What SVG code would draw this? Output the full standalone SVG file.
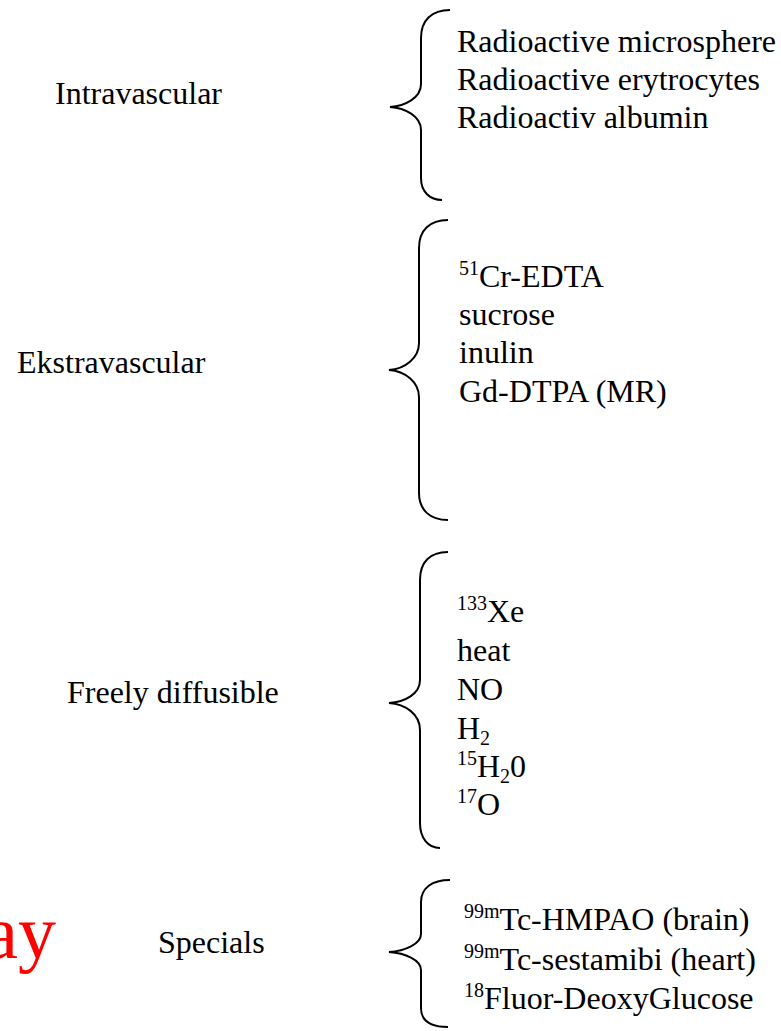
<svg xmlns="http://www.w3.org/2000/svg" width="781" height="1031" viewBox="0 0 781 1031">
<style>
  text { font-family: "Liberation Serif", "Times New Roman", serif; font-size: 32px; fill: #000; }
  .brace { fill: none; stroke: #000; stroke-width: 2; }
  .red { fill: #FF0000; font-size: 76px; }
</style>
<rect width="781" height="1031" fill="#fff"/>
<g id="braces">
  <path class="brace" d="M450,10 C432,10 421,20 421,38 L421,84 C421,98 405,106 390,107 C405,108 421,116 421,130 L421,178 C421,192 430,200 442,200"/>
  <path class="brace" d="M448,220 C430,220 419,230 419,248 L419,343 C419,358 405,369 389,370 C405,371 419,382 419,397 L419,493 C419,510 430,520 448,520"/>
  <path class="brace" d="M448,552 C430,552 420,562 420,580 L420,680 C420,694 405,702 389,703 C405,704 420,714 420,730 L420,823 C420,838 428,848 440,848"/>
  <path class="brace" d="M450,880 C432,880 421,888 421,902 L421,934 C421,944 405,951 389,952 C405,953 421,960 421,970 L421,1008 C421,1020 430,1027 448,1027"/>
</g>
<g id="intravascular">
  <text x="55" y="104">Intravascular</text>
  <text x="457" y="52">Radioactive microsphere</text>
  <text x="457" y="90">Radioactive erytrocytes</text>
  <text x="457" y="128">Radioactiv albumin</text>
</g>
<g id="ekstravascular">
  <text x="17" y="373">Ekstravascular</text>
  <text x="459" y="287"><tspan font-size="20" dy="-12">51</tspan><tspan dy="12">Cr-EDTA</tspan></text>
  <text x="459" y="325">sucrose</text>
  <text x="459" y="363">inulin</text>
  <text x="459" y="402">Gd-DTPA (MR)</text>
</g>
<g id="freely-diffusible">
  <text x="67" y="703">Freely diffusible</text>
  <text x="457" y="622"><tspan font-size="20" dy="-12">133</tspan><tspan dy="12">Xe</tspan></text>
  <text x="457" y="661">heat</text>
  <text x="457" y="700">NO</text>
  <text x="457" y="739">H<tspan font-size="20" dy="6">2</tspan></text>
  <text x="457" y="777"><tspan font-size="20" dy="-12">15</tspan><tspan dy="12">H</tspan><tspan font-size="20" dy="6">2</tspan><tspan dy="-6">0</tspan></text>
  <text x="457" y="815"><tspan font-size="20" dy="-12">17</tspan><tspan dy="12">O</tspan></text>
</g>
<g id="specials">
  <text x="158" y="953">Specials</text>
  <text x="464" y="930"><tspan font-size="20" dy="-12">99m</tspan><tspan dy="12">Tc-HMPAO (brain)</tspan></text>
  <text x="464" y="970"><tspan font-size="20" dy="-12">99m</tspan><tspan dy="12">Tc-sestamibi (heart)</tspan></text>
  <text x="464" y="1009"><tspan font-size="20" dy="-12">18</tspan><tspan dy="12">Fluor-DeoxyGlucose</tspan></text>
</g>
<g id="red-fragment">
  <text class="red" x="56" y="958" text-anchor="end">ay</text>
</g>
</svg>
